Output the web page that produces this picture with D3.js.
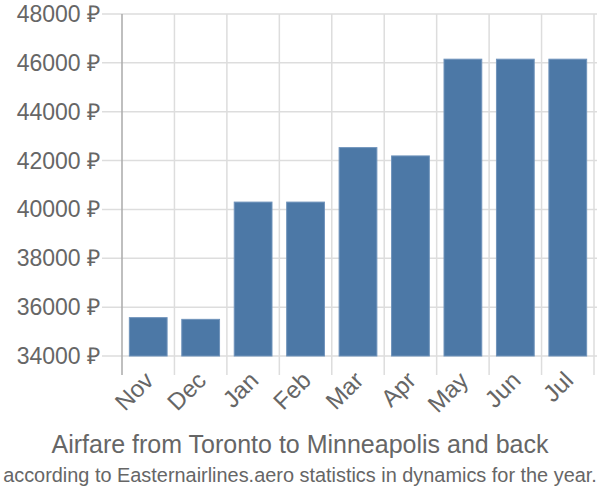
<!DOCTYPE html>
<html><head><meta charset="utf-8">
<script src="https://cdn.jsdelivr.net/npm/d3@7"></script>
<style>body{margin:0;background:#fff}svg{display:block}text{font-family:"Liberation Sans",Arial,sans-serif;fill:#666}</style>
</head><body><svg id="c" width="600" height="500"></svg>
<script>
const months = ["Nov","Dec","Jan","Feb","Mar","Apr","May","Jun","Jul"];
const prices = [35570,35500,40300,40300,42530,42190,46150,46150,46150];
const yTicks = [34000,36000,38000,40000,42000,44000,46000,48000];
const title = "Airfare from Toronto to Minneapolis and back";
const subtitle = "according to Easternairlines.aero statistics in dynamics for the year.";

(function(){
const svg = d3.select("#c");
const pL = 122, pR = 594, pT = 14, pB = 356;
const x = d3.scaleBand().domain(months).range([pL, pR]).padding(0);
const y = d3.scaleLinear().domain([34000, 48000]).range([pB, pT]);

svg.append("g").selectAll("line").data(yTicks).join("line")
  .attr("x1", 102).attr("x2", 597).attr("y1", d => y(d)).attr("y2", d => y(d))
  .attr("stroke", "#ddd").attr("stroke-width", 1.5);
const bounds = months.map(m => x(m)).concat([x(months[months.length-1]) + x.bandwidth()]);
svg.append("g").selectAll("line").data(bounds.slice(1)).join("line")
  .attr("x1", d => d).attr("x2", d => d).attr("y1", pT).attr("y2", 375)
  .attr("stroke", "#ddd").attr("stroke-width", 1.5);
svg.append("line").attr("x1", pL).attr("x2", pL).attr("y1", pT).attr("y2", 375)
  .attr("stroke", "#aaa").attr("stroke-width", 1.5);

svg.append("g").selectAll("text").data(yTicks).join("text")
  .attr("x", 100).attr("y", d => y(d)).attr("dy", "0.35em")
  .attr("text-anchor", "end").style("font-size", "23px")
  .text(d => d + " ₽");

const inset = x.bandwidth() * 0.14;
svg.append("g").selectAll("rect").data(prices).join("rect")
  .attr("x", (d, i) => x(months[i]) + inset)
  .attr("width", x.bandwidth() - 2 * inset)
  .attr("y", d => y(d)).attr("height", d => y(34000) - y(d))
  .attr("fill", "#4c78a6").attr("stroke", "#6f93bb").attr("stroke-width", 1);

svg.append("g").selectAll("text").data(months).join("text")
  .attr("transform", d => `translate(${x(d) + x.bandwidth()/2 - 5},${370}) rotate(-45)`)
  .attr("text-anchor", "end").attr("dy", "0.7em").style("font-size", "24px")
  .text(d => d);

svg.append("text").attr("x", 300).attr("y", 453).attr("text-anchor", "middle")
  .style("font-size", "25px").text(title);
const sub = svg.append("text").attr("x", 300).attr("y", 482).attr("text-anchor", "middle")
  .style("font-family", "'Liberation Sans Narrow','Liberation Sans',sans-serif")
  .style("font-size", "24px").text(subtitle);
const w = sub.node().getComputedTextLength();
if (w > 594) sub.style("font-size", (24 * 594 / w) + "px");
})();
</script></body></html>
